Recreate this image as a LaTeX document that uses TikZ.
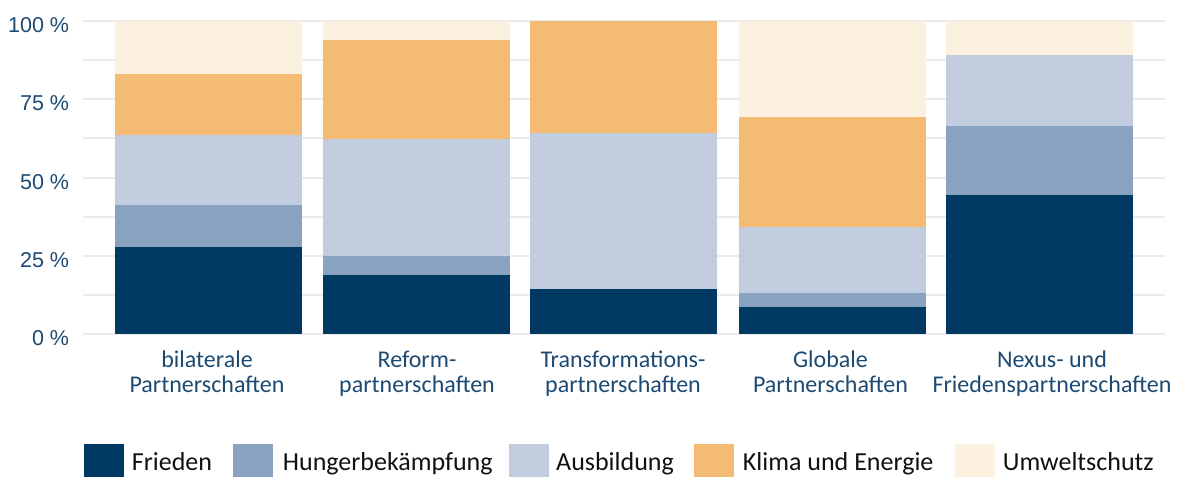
\documentclass[tikz,border=0pt]{standalone}
\usepackage{fontspec}
\setmainfont{Carlito}
\newfontfamily\axisfont{Liberation Sans}
\definecolor{cFrieden}{HTML}{003A63}
\definecolor{cHunger}{HTML}{89A2BF}
\definecolor{cAusb}{HTML}{C1CCDE}
\definecolor{cKlima}{HTML}{F3BB73}
\definecolor{cUmwelt}{HTML}{FCF1E0}
\definecolor{cGrid}{HTML}{EBEBEB}
\definecolor{cAxis}{HTML}{1C4A72}
\definecolor{cLegText}{HTML}{111111}
\tikzset{
  gridline/.style={draw=cGrid, line width=2pt},
  ylab/.style={anchor=base east, inner sep=0pt, text=cAxis, font=\axisfont\fontsize{21.5}{24}\selectfont},
  xlab/.style={anchor=base, inner sep=0pt, text=cAxis, font=\fontsize{24}{25}\selectfont},
  legbox/.style={inner sep=0pt, minimum width=40pt, minimum height=33.3pt, anchor=north west},
  legtext/.style={anchor=base west, inner sep=0pt, text=cLegText, font=\fontsize{26}{28}\selectfont},
}
\begin{document}
\begin{tikzpicture}[x=1pt,y=-1pt]
\useasboundingbox (0,0) rectangle (1186,477);
% grid lines
\foreach \yy in {21,60.1,99.3,138.4,177.5,216.6,255.8,294.9,334}
  \draw[gridline] (83,\yy) -- (1165,\yy);
% y labels
\node[ylab] (y100) at (69.3,32.3) {100 \%};
\node[ylab] (y75) at (69.3,110.6) {75 \%};
\node[ylab] (y50) at (69.3,189) {50 \%};
\node[ylab] (y25) at (69.3,267.1) {25 \%};
\node[ylab] (y0) at (69.3,345.5) {0 \%};
% bar 1: bilaterale
\fill[cFrieden] (115,247) rectangle (301.7,334);
\fill[cHunger]  (115,205) rectangle (301.7,247);
\fill[cAusb]    (115,135) rectangle (301.7,205);
\fill[cKlima]   (115,73.7) rectangle (301.7,135);
\fill[cUmwelt]  (115,21) rectangle (301.7,73.7);
% bar 2: Reform
\fill[cFrieden] (323,275) rectangle (510,334);
\fill[cHunger]  (323,256) rectangle (510,275);
\fill[cAusb]    (323,139) rectangle (510,256);
\fill[cKlima]   (323,40) rectangle (510,139);
\fill[cUmwelt]  (323,21) rectangle (510,40);
% bar 3: Transformation
\fill[cFrieden] (530,289) rectangle (717,334);
\fill[cAusb]    (530,133) rectangle (717,289);
\fill[cKlima]   (530,21) rectangle (717,133);
% bar 4: Globale
\fill[cFrieden] (739,307) rectangle (926,334);
\fill[cHunger]  (739,293) rectangle (926,307);
\fill[cAusb]    (739,227) rectangle (926,293);
\fill[cKlima]   (739,117) rectangle (926,227);
\fill[cUmwelt]  (739,21) rectangle (926,117);
% bar 5: Nexus
\fill[cFrieden] (946,195) rectangle (1133,334);
\fill[cHunger]  (946,126) rectangle (1133,195);
\fill[cAusb]    (946,55) rectangle (1133,126);
\fill[cUmwelt]  (946,21) rectangle (1133,55);
% x labels
\node[xlab] (l1a) at (207,367.7) {bilaterale};
\node[xlab] (l1b) at (207,392.7) {Partnerschaften};
\node[xlab] (l2a) at (417,367.7) {Reform-};
\node[xlab] (l2b) at (417,392.7) {partnerschaften};
\node[xlab] (l3a) at (623,367.7) {Transformations-};
\node[xlab] (l3b) at (623,392.7) {partnerschaften};
\node[xlab] (l4a) at (830.5,367.7) {Globale};
\node[xlab] (l4b) at (830.5,392.7) {Partnerschaften};
\node[xlab] (l5a) at (1052,367.7) {Nexus- und};
\node[xlab] (l5b) at (1052,392.7) {Friedenspartnerschaften};
% legend
\node[legbox, fill=cFrieden] (k1) at (84,443.4) {};
\node[legtext] (t1) at (131.7,470) {Frieden};
\node[legbox, fill=cHunger] (k2) at (233,443.4) {};
\node[legtext] (t2) at (282.7,470) {Hungerbekämpfung};
\node[legbox, fill=cAusb] (k3) at (508.3,443.4) {};
\node[legtext] (t3) at (556,470) {Ausbildung};
\node[legbox, fill=cKlima] (k4) at (694,443.4) {};
\node[legtext] (t4) at (742.7,470.5) {Klima und Energie};
\node[legbox, fill=cUmwelt] (k5) at (955,443.4) {};
\node[legtext] (t5) at (1002.7,470) {Umweltschutz};
\end{tikzpicture}
\end{document}
